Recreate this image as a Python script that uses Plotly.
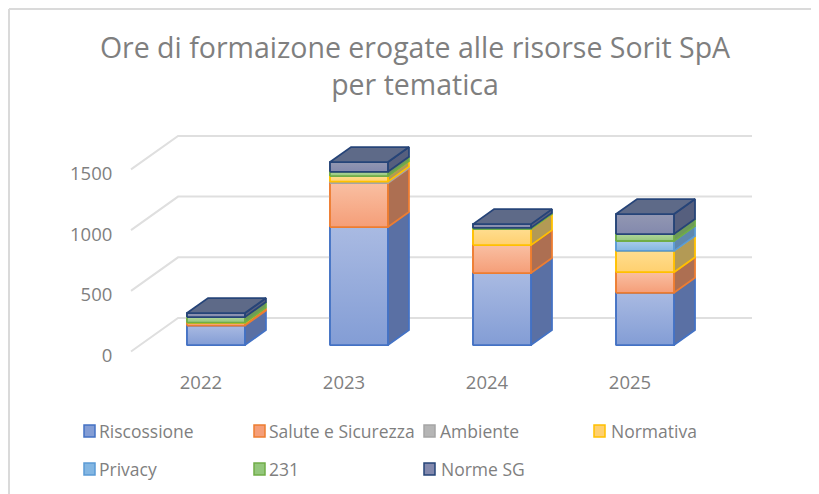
import plotly.graph_objects as go

years = ["2022", "2023", "2024", "2025"]
series_names = ["Riscossione", "Salute e Sicurezza", "Ambiente", "Normativa", "Privacy", "231", "Norme SG"]
riscossione = [160, 972, 593, 430]
salute = [20, 362, 230, 170]
ambiente = [0, 12, 0, 0]
normativa = [5, 46, 132, 175]
privacy = [0, 0, 0, 82]
d231 = [45, 35, 10, 57]
norme_sg = [33, 80, 31, 165]
ticks_y = [0, 500, 1000, 1500]

series = [riscossione, salute, ambiente, normativa, privacy, d231, norme_sg]
edge = ["#4472C4", "#ED7D31", "#A5A5A5", "#FFC000", "#5B9BD5", "#70AD47", "#264478"]
light = ["#A9BAE2", "#F9BFA2", "#CFCFCF", "#FFDD8F", "#A9CCEA", "#B1D69B", "#9297B2"]
dark = ["#839DD5", "#F59E78", "#B5B5B5", "#FFD06F", "#83B6E2", "#94C77C", "#8389AD"]
side = ["#5A70A4", "#AD6F52", "#A89C94", "#B39A55", "#5F88AE", "#6E9A58", "#565F7E"]
top_face = "#5E6A88"

BAR_W = 0.405
DX, DY = 0.147, 123.6      # depth of one bar
BASE = 53.5                # bars stand inside the floor
WX, WY = 0.329, 276        # depth of the wall
W0, W1 = -0.594, 3.748

fig = go.Figure()

cum = [BASE] * 4
bases = []
for k, vals in enumerate(series):
    bases.append(list(cum))
    fig.add_trace(go.Bar(
        x=list(range(4)), y=vals, base=list(cum), width=BAR_W, name=series_names[k],
        marker=dict(color=dark[k], line=dict(color=edge[k], width=1.5)),
        showlegend=False, hoverinfo="skip"))
    cum = [c + v for c, v in zip(cum, vals)]

gx, gy = [], []
for v in ticks_y:
    gx += [W0, W0 + WX, W1, None]
    gy += [v, v + WY, v + WY, None]
fig.add_trace(go.Scatter(x=gx, y=gy, mode="lines", line=dict(color="#DFDFDF", width=2),
                         showlegend=False, hoverinfo="skip"))

def poly(xs, ys, line, **kw):
    fig.add_trace(go.Scatter(x=xs + xs[:1], y=ys + ys[:1], mode="lines", fill="toself",
                             line=dict(color=line, width=1.8), showlegend=False,
                             hoverinfo="skip", **kw))

for k, vals in enumerate(series):
    for i, v in enumerate(vals):
        if v == 0:
            continue
        b, t = bases[k][i], bases[k][i] + v
        l, r = i - BAR_W / 2, i + BAR_W / 2
        poly([r, r + DX, r + DX, r], [b, b + DY, t + DY, t], edge[k], fillcolor=side[k])
        poly([l, r, r, l], [b, b, t, t], edge[k],
             fillgradient=dict(type="vertical", colorscale=[[0, dark[k]], [1, light[k]]]))

for i in range(4):
    t = cum[i]
    l, r = i - BAR_W / 2, i + BAR_W / 2
    poly([l, r, r + DX, l + DX], [t, t, t + DY, t + DY], edge[6], fillcolor=top_face)

font_c = "#7F7F7F"

# page pixels -> paper coordinates (the page has an 8 px body margin)
def xp(px):
    return (px - 125) / 635
def yp(py):
    return (365 - py) / 240

swatch_x = [83, 253, 423, 593, 83, 253, 423]
text_x = [97, 267, 438, 609, 97, 267, 439]
row_y = [431, 431, 431, 431, 469, 469, 469]
shapes, annotations = [], []
for k, name in enumerate(series_names):
    shapes.append(dict(type="rect", xref="paper", yref="paper",
                       x0=xp(swatch_x[k] + 1), x1=xp(swatch_x[k] + 12),
                       y0=yp(row_y[k] + 6), y1=yp(row_y[k] - 6),
                       fillcolor=dark[k], line=dict(color=edge[k], width=1.5)))
    annotations.append(dict(text=name, xref="paper", yref="paper", x=xp(text_x[k]), y=yp(row_y[k]),
                            xanchor="left", yanchor="middle", showarrow=False,
                            font=dict(size=17.5, color=font_c)))

# thin chart frame seen at the reference's edges
frame = [("#DADADA", 2, 9, 9, 9, 494), ("#DADADA", 2, 9, 9, 819, 9), ("#F1F1F1", 1, 815, 9, 815, 494)]
for color, w, x0, y0, x1, y1 in frame:
    shapes.append(dict(type="line", xref="paper", yref="paper", x0=xp(x0), y0=yp(y0), x1=xp(x1), y1=yp(y1),
                       line=dict(color=color, width=w)))

fig.update_layout(
    width=811, height=486, autosize=False,
    margin=dict(l=117, r=59, t=117, b=129, autoexpand=False),
    paper_bgcolor="white", plot_bgcolor="white",
    font=dict(family="Open Sans", color=font_c, size=18.5),
    title=dict(text="Ore di formaizone erogate alle risorse Sorit SpA<br>per tematica",
               x=407 / 811, xanchor="center", y=0.897, yanchor="top",
               font=dict(family="Open Sans", size=28.5, color="#7F7F7F")),
    barmode="overlay", showlegend=False,
    shapes=shapes, annotations=annotations,
    xaxis=dict(range=[-0.636, 3.804], showgrid=False, zeroline=False, showline=False,
               automargin=False, tickmode="array", tickvals=[i - 0.105 for i in range(4)],
               ticktext=years, ticks="outside", ticklen=1, tickcolor="rgba(0,0,0,0)"),
    yaxis=dict(range=[-111, 1866], showgrid=False, zeroline=False, showline=False,
               automargin=False, tickmode="array", tickvals=[v - 33 for v in ticks_y],
               ticktext=[str(v) for v in ticks_y], ticks="outside", ticklen=8,
               tickcolor="rgba(0,0,0,0)"),
)
fig.write_html("out.html")
